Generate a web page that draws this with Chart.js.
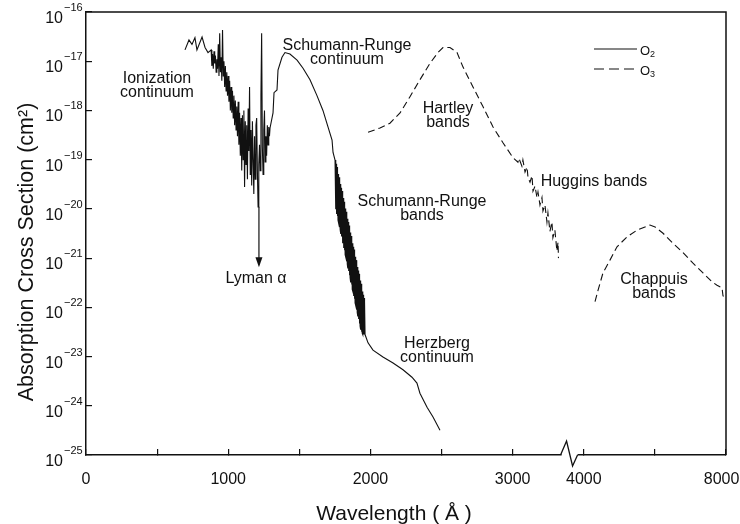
<!DOCTYPE html>
<html>
<head>
<meta charset="utf-8">
<script src="https://cdn.jsdelivr.net/npm/chart.js@4.4.0/dist/chart.umd.min.js"></script>
<style>
  html, body { margin: 0; padding: 0; background: #fff; }
  canvas { display: block; }
</style>
</head>
<body>
<canvas id="chart" width="740" height="524"></canvas>
<script>
// O2 cross section (cm2) vs wavelength (A)
const o2Wave = [
    // ionization continuum, noisy
    696, 724, 745, 766, 780, 816, 837, 858,
    880, 885, 890, 895, 900, 905, 910, 915, 920, 925,
    930, 935, 940, 945, 950, 955, 960, 965, 970, 975,
    980, 985, 990, 995, 1000, 1005, 1010, 1015, 1020, 1025,
    1030, 1035, 1040, 1045, 1050, 1055, 1060, 1065, 1070, 1075,
    1080, 1085, 1090, 1095, 1100, 1105, 1110, 1115, 1120, 1125,
    1130, 1135, 1140, 1145, 1150, 1155, 1160, 1165, 1170, 1175,
    1180, 1185, 1190, 1195, 1200, 1205, 1210, 1215, 1220, 1225,
    1230, 1235, 1240, 1245, 1250, 1255, 1260, 1265, 1270, 1275,
    1280, 1285, 1290,
    // Schumann-Runge continuum
    1294, 1315, 1322, 1343, 1350, 1378, 1399, 1434, 1484, 1526,
    1575, 1624, 1666, 1702, 1730, 1737, 1751,
    // Schumann-Runge bands
    1755, 1757, 1760, 1762, 1765, 1767, 1770, 1772, 1775, 1777,
    1780, 1782, 1785, 1787, 1790, 1792, 1795, 1797, 1800, 1802,
    1805, 1807, 1810, 1812, 1815, 1817, 1820, 1822, 1825, 1827,
    1830, 1832, 1835, 1837, 1840, 1842, 1845, 1847, 1850, 1852,
    1855, 1857, 1860, 1862, 1865, 1867, 1870, 1872, 1875, 1877,
    1880, 1882, 1885, 1887, 1890, 1892, 1895, 1897, 1900, 1902,
    1905, 1907, 1910, 1912, 1915, 1917, 1920, 1922, 1925, 1927,
    1930, 1932, 1935, 1937, 1940, 1942, 1945, 1947, 1950, 1952,
    1955, 1957, 1960, 1962,
    // Herzberg continuum
    1983, 2018, 2088, 2159, 2229, 2292, 2327, 2348, 2398, 2440, 2489
];
const o2Cross = [
    1.7e-17, 2.7e-17, 2.2e-17, 3.0e-17, 1.7e-17, 3.1e-17, 1.9e-17, 1.5e-17,
    1.7e-17, 8e-18, 1.4e-17, 7e-18, 1.6e-17, 9e-18, 1.3e-17, 6e-18, 1.1e-17, 7e-18,
    2.2e-17, 5e-18, 3.7e-17, 6e-18, 1.2e-17, 4e-18, 4.3e-17, 5e-18, 1.0e-17, 3e-18,
    8e-18, 2.5e-18, 6e-18, 2e-18, 5e-18, 1.5e-18, 4e-18, 1.0e-18, 3e-18, 9e-19,
    2.5e-18, 7e-19, 2e-18, 5e-19, 1.6e-18, 4e-19, 1.2e-18, 3e-19, 1.5e-18, 2e-19,
    9e-19, 1.2e-19, 7e-19, 6e-20, 8e-19, 1e-19, 1.0e-18, 2.8e-20, 6e-19, 8e-20,
    5e-19, 4e-20, 1.1e-18, 1.5e-19, 3.0e-18, 5e-20, 4e-19, 3e-20, 6e-19, 1e-19,
    2e-20, 3e-19, 4e-20, 5e-19, 7e-19, 6e-20, 1.1e-20, 8e-20, 2e-19, 6e-20,
    2e-18, 3.7e-17, 1.8e-19, 5e-20, 4e-19, 1e-18, 9e-20, 3e-19, 1.2e-19, 5e-19,
    2e-19, 4.6e-19, 3e-19,
    4.4e-19, 8.9e-19, 2.3e-18, 2.6e-18, 6.6e-18, 1.2e-17, 1.5e-17, 1.4e-17, 1.05e-17, 7.2e-18,
    4.2e-18, 2.0e-18, 1.0e-18, 4.6e-19, 2.5e-19, 1.4e-19, 9.8e-20,
    9.8e-20, 9.8e-21, 8.3e-20, 7.9e-21, 7.1e-20, 7.2e-21, 6.0e-20, 5.9e-21, 5.1e-20, 5.2e-21,
    4.4e-20, 4.3e-21, 3.7e-20, 3.8e-21, 3.2e-20, 3.1e-21, 2.7e-20, 2.75e-21, 2.3e-20, 2.2e-21,
    1.95e-20, 2.0e-21, 1.66e-20, 1.6e-21, 1.4e-20, 1.45e-21, 1.2e-20, 1.17e-21, 1.02e-20, 1.05e-21,
    8.7e-21, 8.5e-22, 7.4e-21, 7.6e-22, 6.3e-21, 6.2e-22, 5.4e-21, 5.5e-22, 4.6e-21, 4.5e-22,
    3.9e-21, 4.0e-22, 3.3e-21, 3.2e-22, 2.8e-21, 2.9e-22, 2.4e-21, 2.3e-22, 2.0e-21, 2.1e-22,
    1.7e-21, 1.7e-22, 1.5e-21, 1.5e-22, 1.26e-21, 1.23e-22, 1.07e-21, 1.1e-22, 9.1e-22, 8.9e-23,
    7.8e-22, 7.9e-23, 6.6e-22, 6.5e-23, 5.6e-22, 5.8e-23, 4.8e-22, 4.7e-23, 4.1e-22, 4.2e-23,
    3.5e-22, 3.5e-23, 3.0e-22, 3.2e-23, 2.5e-22, 3.0e-23, 2.1e-22, 2.8e-23, 1.8e-22, 2.8e-23,
    1.55e-22, 2.8e-23, 1.3e-22, 2.8e-23,
    1.9e-23, 1.35e-23, 9.8e-24, 7.4e-24, 5.4e-24, 3.8e-24, 2.9e-24, 1.8e-24, 9.3e-25, 5.9e-25, 3.2e-25
];

// O3 Hartley + Huggins bands
const o3Wave = [
    1983, 2067, 2137, 2208, 2278, 2348, 2419, 2475, 2510, 2559, 2609, 2651, 2721, 2791, 2862, 2932, 3002, 3037,
    3044, 3065, 3072, 3087, 3101, 3108, 3122, 3136, 3143, 3157, 3171, 3178, 3192, 3206, 3213, 3227, 3241, 3248,
    3262, 3276, 3283, 3297, 3311, 3319, 3322
];
const o3Cross = [
    3.6e-19, 4.4e-19, 5.5e-19, 8.9e-19, 1.9e-18, 4.2e-18, 9.1e-18, 1.5e-17, 1.9e-17, 1.9e-17, 1.5e-17, 7.6e-18, 3.0e-18, 1.2e-18, 4.6e-19, 2.2e-19, 1.1e-19, 8.9e-20,
    1.07e-19, 7.4e-20, 9.8e-20, 5.6e-20, 7.1e-20, 4.3e-20, 3.5e-20, 4.7e-20, 2.3e-20, 2.9e-20, 1.7e-20, 2.2e-20, 1.2e-20, 1.7e-20, 9.1e-21, 1.2e-20, 5.4e-21, 8.3e-21,
    3.5e-21, 5.4e-21, 2.6e-21, 3.7e-21, 1.4e-21, 2.1e-21, 1.0e-21
];

// O3 Chappuis bands (past the axis break)
const chappuisWave = [4316, 4400, 4540, 4737, 4935, 5216, 5497, 5722, 5862, 6004, 6229, 6510, 6791, 7072, 7353, 7606, 7747, 7888, 7916, 8000];
const chappuisCross = [1.3e-22, 2.2e-22, 5.0e-22, 9.1e-22, 1.7e-21, 2.7e-21, 3.7e-21, 4.3e-21, 4.7e-21, 4.3e-21, 3.2e-21, 2.0e-21, 1.3e-21, 7.9e-22, 5.0e-22, 3.3e-22, 2.8e-22, 2.5e-22, 1.7e-22, 1.6e-22];

const xTickWaves = [0, 500, 1000, 1500, 2000, 2500, 3000, 4000, 6000, 8000];
const xTickLabels = ['0', '', '1000', '', '2000', '', '3000', '4000', '', '8000  '];
const yTickValues = [1e-25, 1e-24, 1e-23, 1e-22, 1e-21, 1e-20, 1e-19, 1e-18, 1e-17, 1e-16];

const lymanAlpha = 1216;
const axisBreak = 3400; // axis units

const FONT = "'Liberation Sans', Arial, Helvetica, sans-serif";
const INK = '#111';

// above 4000 A the axis is squeezed 4:1
function toAxis(w) {
    return w <= 3500 ? w : 3500 + (w - 4000) / 4;
}

function points(waves, values) {
    return waves.map((w, i) => ({ x: toAxis(w), y: values[i] }));
}

const notes = [
    { lines: ['Ionization', 'continuum'], x: 157, y: 83 },
    { lines: ['Schumann-Runge', 'continuum'], x: 347, y: 50 },
    { lines: ['Hartley', 'bands'], x: 448, y: 113 },
    { lines: ['Schumann-Runge', 'bands'], x: 422, y: 206 },
    { lines: ['Huggins bands'], x: 594, y: 186 },
    { lines: ['Herzberg', 'continuum'], x: 437, y: 348 },
    { lines: ['Chappuis', 'bands'], x: 654, y: 284 }
];

const decorations = {
    id: 'decorations',
    afterDraw(chart) {
        const { ctx, chartArea: a, scales: { x, y } } = chart;
        ctx.save();
        ctx.strokeStyle = INK;
        ctx.fillStyle = INK;

        // top and right frame
        ctx.lineWidth = 1.5;
        ctx.beginPath();
        ctx.moveTo(a.left, a.top);
        ctx.lineTo(a.right, a.top);
        ctx.lineTo(a.right, a.bottom);
        ctx.stroke();

        // y tick labels 10^n
        yTickValues.forEach(v => {
            const py = y.getPixelForValue(v);
            const exp = Math.round(Math.log10(v));
            ctx.font = `16px ${FONT}`;
            ctx.textAlign = 'right';
            ctx.textBaseline = 'alphabetic';
            ctx.fillText('10', 63, py + 11);
            ctx.font = `11px ${FONT}`;
            ctx.textAlign = 'left';
            ctx.fillText('\u2212' + Math.abs(exp), 64, py - 1);
        });

        // axis break
        const bx = x.getPixelForValue(axisBreak);
        const by = a.bottom;
        ctx.fillStyle = '#fff';
        ctx.fillRect(bx - 8, by - 2, 16, 4);
        ctx.fillStyle = INK;
        ctx.lineWidth = 1.3;
        ctx.beginPath();
        ctx.moveTo(bx - 9, by);
        ctx.lineTo(bx - 3, by - 14);
        ctx.lineTo(bx + 3, by + 11);
        ctx.lineTo(bx + 8, by);
        ctx.stroke();

        // text notes
        ctx.font = `16px ${FONT}`;
        ctx.textAlign = 'center';
        ctx.textBaseline = 'alphabetic';
        notes.forEach(n => {
            n.lines.forEach((t, i) => ctx.fillText(t, n.x, n.y + i * 14));
        });

        // Lyman alpha arrow
        const lx = x.getPixelForValue(toAxis(lymanAlpha));
        const ly1 = y.getPixelForValue(1.1e-20);
        const ly2 = y.getPixelForValue(6.5e-22);
        ctx.lineWidth = 1.2;
        ctx.beginPath();
        ctx.moveTo(lx, ly1);
        ctx.lineTo(lx, ly2 - 8);
        ctx.stroke();
        ctx.beginPath();
        ctx.moveTo(lx - 3.5, ly2 - 10);
        ctx.lineTo(lx + 3.5, ly2 - 10);
        ctx.lineTo(lx, ly2);
        ctx.closePath();
        ctx.fill();
        ctx.fillText('Lyman \u03b1', lx - 3, ly2 + 16);

        // legend
        const lx0 = a.right - 132;
        ctx.lineWidth = 1.1;
        ctx.beginPath();
        ctx.moveTo(lx0, 49);
        ctx.lineTo(lx0 + 43, 49);
        ctx.stroke();
        ctx.setLineDash([10, 5]);
        ctx.beginPath();
        ctx.moveTo(lx0, 69);
        ctx.lineTo(lx0 + 43, 69);
        ctx.stroke();
        ctx.setLineDash([]);
        ctx.textAlign = 'left';
        [['2', 55], ['3', 75]].forEach(([sub, base]) => {
            ctx.font = `13px ${FONT}`;
            ctx.fillText('O', lx0 + 46, base);
            ctx.font = `9px ${FONT}`;
            ctx.fillText(sub, lx0 + 56, base + 2);
        });

        // axis titles
        ctx.font = `21px ${FONT}`;
        ctx.textAlign = 'center';
        ctx.fillText('Wavelength ( \u00c5 )', 394, 520);
        ctx.save();
        ctx.translate(33, 252);
        ctx.rotate(-Math.PI / 2);
        ctx.font = `21.5px ${FONT}`;
        ctx.fillText('Absorption Cross Section (cm\u00b2)', 0, 0);
        ctx.restore();

        ctx.restore();
    }
};

const axisGrid = { drawOnChartArea: false, tickLength: -6, color: INK, lineWidth: 1.2 };
const axisBorder = { color: INK, width: 1.5 };

new Chart(document.getElementById('chart'), {
    type: 'line',
    data: {
        datasets: [
            { label: 'O2', data: points(o2Wave, o2Cross), borderColor: INK, borderWidth: 1.1 },
            { label: 'O3', data: points(o3Wave, o3Cross), borderColor: INK, borderWidth: 1.1, borderDash: [7, 4] },
            { label: 'O3 Chappuis', data: points(chappuisWave, chappuisCross), borderColor: INK, borderWidth: 1.1, borderDash: [7, 4] }
        ]
    },
    options: {
        responsive: false,
        animation: false,
        devicePixelRatio: 1,
        layout: { padding: { top: 12, right: 14, left: 0, bottom: 0 } },
        elements: {
            point: { radius: 0 },
            line: { tension: 0, fill: false }
        },
        plugins: {
            legend: { display: false },
            tooltip: { enabled: false }
        },
        scales: {
            x: {
                type: 'linear',
                min: 0,
                max: 4500,
                afterBuildTicks: s => { s.ticks = xTickWaves.map(w => ({ value: toAxis(w) })); },
                afterFit: s => { s.height = 69; s.paddingLeft = 0; s.paddingRight = 0; },
                ticks: {
                    autoSkip: false,
                    maxRotation: 0,
                    padding: 21,
                    color: INK,
                    font: { family: FONT, size: 16 },
                    callback: (v, i) => xTickLabels[i]
                },
                grid: axisGrid,
                border: axisBorder
            },
            y: {
                type: 'logarithmic',
                min: 1e-25,
                max: 1e-16,
                afterBuildTicks: s => { s.ticks = yTickValues.map(v => ({ value: v })); },
                afterFit: s => { s.width = 86; s.paddingTop = 0; s.paddingBottom = 0; },
                ticks: { display: false },
                grid: axisGrid,
                border: axisBorder
            }
        }
    },
    plugins: [decorations]
});
</script>
</body>
</html>
